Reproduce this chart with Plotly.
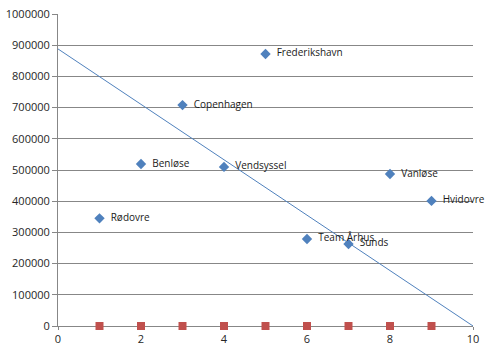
import plotly.graph_objects as go

clubs = ["Rødovre", "Benløse", "Copenhagen", "Vendsyssel", "Frederikshavn",
         "Team Århus", "Sunds", "Vanløse", "Hvidovre"]
club_x = [1, 2, 3, 4, 5, 6, 7, 8, 9]
club_y = [345000, 519000, 708000, 510000, 872000, 279000, 263000, 487000, 401000]

zero_x = [1, 2, 3, 4, 5, 6, 7, 8, 9]
zero_y = [0, 0, 0, 0, 0, 0, 0, 0, 0]

trend_x = [0, 10]
trend_y = [888000, 0]

y_ticks = [0, 100000, 200000, 300000, 400000, 500000, 600000, 700000, 800000, 900000, 1000000]
x_ticks = [0, 2, 4, 6, 8, 10]

fig = go.Figure()
fig.add_trace(go.Scatter(x=trend_x, y=trend_y, mode="lines",
                         line=dict(color="#4F81BD", width=1), hoverinfo="skip"))
fig.add_trace(go.Scatter(x=zero_x, y=zero_y, mode="markers",
                         marker=dict(symbol="square", size=8, color="#C0504D"),
                         cliponaxis=False))
fig.add_trace(go.Scatter(x=club_x, y=club_y, mode="markers+text",
                         text=["  " + c for c in clubs], textposition="middle right",
                         textfont=dict(family="Open Sans", size=10, color="#1a1a1a"),
                         marker=dict(symbol="diamond", size=8, color="#4F81BD"),
                         cliponaxis=False))

fig.update_layout(
    width=495, height=351,
    margin=dict(l=58, r=22, t=14, b=25),
    paper_bgcolor="white", plot_bgcolor="white",
    showlegend=False,
    font=dict(family="Open Sans", size=11, color="#262626"),
)
fig.update_xaxes(range=[0, 10], tickvals=x_ticks, showgrid=False, zeroline=False,
                 showline=True, linecolor="#878787", ticks="outside", ticklen=3,
                 tickcolor="#878787", tickfont=dict(size=11), automargin=False,
                 layer="below traces")
fig.update_yaxes(range=[0, 1000000], tickvals=y_ticks, tickformat="d",
                 showgrid=True, gridcolor="#878787", gridwidth=1, zeroline=False,
                 showline=True, linecolor="#878787", ticks="outside", ticklen=5,
                 tickcolor="#878787", tickfont=dict(size=11), automargin=False,
                 layer="below traces")
fig.write_html("out.html")
